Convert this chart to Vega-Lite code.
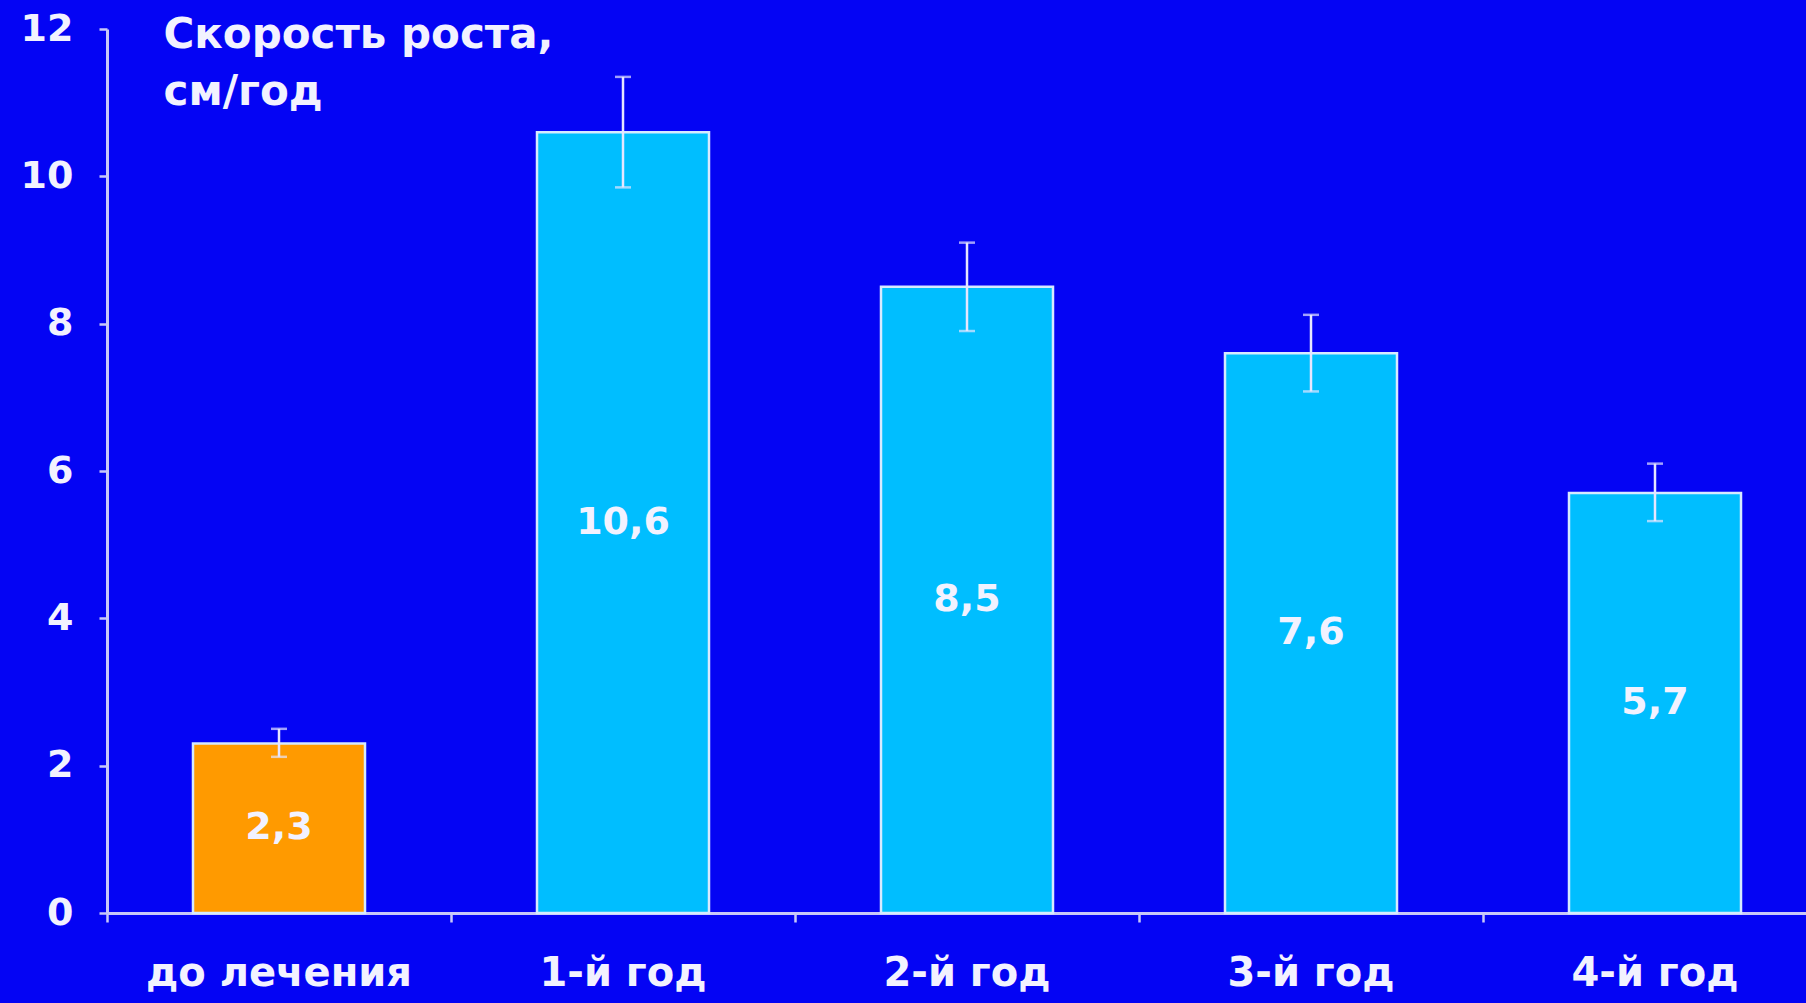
{
  "$schema": "https://vega.github.io/schema/vega-lite/v6.json",
  "autosize": {"type": "none"},
  "width": 1699,
  "height": 884,
  "padding": {"left": 107, "top": 29, "right": 0, "bottom": 90},
  "background": "#0404F4",
  "config": {
    "view": {"stroke": null},
    "font": "DejaVu Sans",
    "locale": {
      "number": {"decimal": ",", "thousands": " ", "grouping": [3], "currency": ["", " ₽"]}
    }
  },
  "data": {
    "values": [
      {"period": "до лечения", "kind": "before", "value": 2.3, "lo": 2.12, "hi": 2.5},
      {"period": "1-й год", "kind": "therapy", "value": 10.6, "lo": 9.85, "hi": 11.35},
      {"period": "2-й год", "kind": "therapy", "value": 8.5, "lo": 7.9, "hi": 9.1},
      {"period": "3-й год", "kind": "therapy", "value": 7.6, "lo": 7.08, "hi": 8.12},
      {"period": "4-й год", "kind": "therapy", "value": 5.7, "lo": 5.32, "hi": 6.1}
    ]
  },
  "encoding": {
    "x": {
      "field": "period",
      "type": "nominal",
      "sort": null,
      "scale": {"range": [0, 1720], "paddingInner": 0.5, "paddingOuter": 0.25},
      "axis": {
        "title": null,
        "labelAngle": 0,
        "labelLimit": 0,
        "labelFont": "DejaVu Sans",
        "labelFontWeight": "bold",
        "labelFontSize": 40,
        "labelColor": "#F2F2FF",
        "labelPadding": 31,
        "bandPosition": -0.5,
        "tickSize": 9,
        "tickWidth": 2.5,
        "tickColor": "#C8C8F8",
        "domainColor": "#C8C8F8",
        "domainWidth": 3
      }
    }
  },
  "layer": [
    {
      "mark": {"type": "bar", "stroke": "#D6EAFF", "strokeWidth": 2.5},
      "encoding": {
        "y": {
          "field": "value",
          "type": "quantitative",
          "scale": {"domain": [0, 12], "nice": false},
          "axis": {
            "values": [0, 2, 4, 6, 8, 10, 12],
            "format": "d",
            "grid": false,
            "title": ["Скорость роста,", "см/год"],
            "titleAngle": 0,
            "titleAlign": "left",
            "titleBaseline": "top",
            "titleX": 56,
            "titleY": -15,
            "titleFont": "DejaVu Sans",
            "titleFontWeight": "bold",
            "titleFontSize": 42,
            "titleLineHeight": 57,
            "titleColor": "#F2F2FF",
            "labelFont": "DejaVu Sans",
            "labelFontWeight": "bold",
            "labelFontSize": 38,
            "labelColor": "#F2F2FF",
            "labelPadding": 26,
            "tickSize": 8,
            "tickWidth": 2.5,
            "tickColor": "#C8C8F8",
            "domainColor": "#C8C8F8",
            "domainWidth": 3
          }
        },
        "color": {
          "field": "kind",
          "type": "nominal",
          "scale": {"domain": ["before", "therapy"], "range": ["#FF9A00", "#00BEFF"]},
          "legend": null
        }
      }
    },
    {
      "mark": {"type": "rule", "color": "#E6E6FF", "strokeWidth": 2.5},
      "encoding": {
        "y": {"field": "lo", "type": "quantitative"},
        "y2": {"field": "hi"}
      }
    },
    {
      "mark": {"type": "tick", "color": "#E6E6FF", "thickness": 2.5, "size": 16},
      "encoding": {"y": {"field": "hi", "type": "quantitative"}}
    },
    {
      "mark": {"type": "tick", "color": "#E6E6FF", "thickness": 2.5, "size": 16},
      "encoding": {"y": {"field": "lo", "type": "quantitative"}}
    },
    {
      "transform": [{"calculate": "datum.value / 2", "as": "mid"}],
      "mark": {
        "type": "text",
        "font": "DejaVu Sans",
        "fontWeight": "bold",
        "fontSize": 38,
        "color": "#F2F2FF",
        "baseline": "middle",
        "align": "center"
      },
      "encoding": {
        "y": {"field": "mid", "type": "quantitative"},
        "text": {"field": "value", "type": "quantitative", "format": ".1f"}
      }
    }
  ]
}
